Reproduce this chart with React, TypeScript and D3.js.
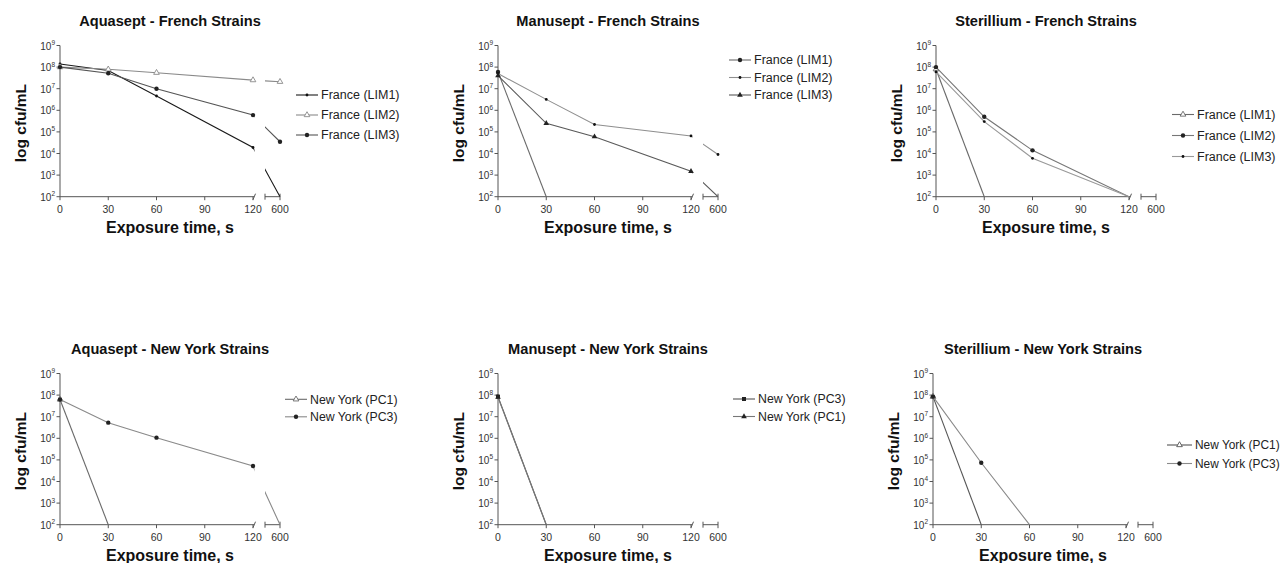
import React from "react";
import * as d3 from "d3";

// sampling times (s); 600 sits on the right of the axis break
const times = [0, 30, 60, 120, 600];
const xTicksMain = [0, 30, 60, 90, 120];
const xTicksBreak = [600];
const yExponents = [2, 3, 4, 5, 6, 7, 8, 9];

// log cfu/mL (null = not plotted)
const aquaFrLIM1 = [1.4e8, 7e7, 4.6e6, 1.9e4, 1e2];
const aquaFrLIM2 = [1e8, 7.9e7, 5.5e7, 2.5e7, 2.1e7];
const aquaFrLIM3 = [1e8, 5.2e7, 1e7, 6e5, 3.5e4];

const manuFrLIM1 = [6e7, 1e2, null, null, null];
const manuFrLIM2 = [5e7, 3.2e6, 2.2e5, 6.5e4, 9e3];
const manuFrLIM3 = [4e7, 2.5e5, 6e4, 1.5e3, 1e2];

const sterFrLIM1 = [8e7, 1e2, null, null, null];
const sterFrLIM2 = [1e8, 5e5, 1.4e4, 1e2, null];
const sterFrLIM3 = [6e7, 3e5, 6e3, 1e2, null];

const aquaNyPC1 = [6.3e7, 1e2, null, null, null];
const aquaNyPC3 = [6.3e7, 5.3e6, 1.07e6, 5.2e4, 1e2];

const manuNyPC3 = [8.5e7, 1e2, null, null, null];
const manuNyPC1 = [8e7, 1e2, null, null, null];

const sterNyPC1 = [8.5e7, 1e2, null, null, null];
const sterNyPC3 = [8.5e7, 7.4e4, 1e2, null, null];

type Series = { name: string; values: (number | null)[]; color: string; marker: string };
type Panel = {
  title: string;
  x0: number;
  yTop: number;
  yBottom: number;
  series: Series[];
  legend: { x: number; y: number; gap: number; size: number };
};

const FONT = "'Liberation Sans', Arial, Helvetica, sans-serif";

const panels: Panel[] = [
  {
    title: "Aquasept - French Strains",
    x0: 60, yTop: 45.5, yBottom: 196.7,
    series: [
      { name: "France (LIM1)", values: aquaFrLIM1, color: "#1a1a1a", marker: "dot" },
      { name: "France (LIM2)", values: aquaFrLIM2, color: "#8a8a8a", marker: "triangle" },
      { name: "France (LIM3)", values: aquaFrLIM3, color: "#555", marker: "circle" },
    ],
    legend: { x: 296, y: 95, gap: 20, size: 12.5 },
  },
  {
    title: "Manusept - French Strains",
    x0: 498, yTop: 45.5, yBottom: 196.7,
    series: [
      { name: "France (LIM1)", values: manuFrLIM1, color: "#6a6a6a", marker: "circle" },
      { name: "France (LIM2)", values: manuFrLIM2, color: "#8f8f8f", marker: "dot" },
      { name: "France (LIM3)", values: manuFrLIM3, color: "#5a5a5a", marker: "triFill" },
    ],
    legend: { x: 729, y: 60, gap: 17.5, size: 12.5 },
  },
  {
    title: "Sterillium - French Strains",
    x0: 936, yTop: 45.5, yBottom: 196.7,
    series: [
      { name: "France (LIM1)", values: sterFrLIM1, color: "#6a6a6a", marker: "triangle" },
      { name: "France (LIM2)", values: sterFrLIM2, color: "#777", marker: "circle" },
      { name: "France (LIM3)", values: sterFrLIM3, color: "#999", marker: "dot" },
    ],
    legend: { x: 1172, y: 114.5, gap: 21, size: 12.5 },
  },
  {
    title: "Aquasept - New York Strains",
    x0: 60, yTop: 373.5, yBottom: 524.7,
    series: [
      { name: "New York (PC1)", values: aquaNyPC1, color: "#6a6a6a", marker: "triangle" },
      { name: "New York (PC3)", values: aquaNyPC3, color: "#8a8a8a", marker: "circle" },
    ],
    legend: { x: 285, y: 399.3, gap: 17.5, size: 12.3 },
  },
  {
    title: "Manusept - New York Strains",
    x0: 498, yTop: 373.5, yBottom: 524.7,
    series: [
      { name: "New York (PC3)", values: manuNyPC3, color: "#555", marker: "square" },
      { name: "New York (PC1)", values: manuNyPC1, color: "#777", marker: "triFill" },
    ],
    legend: { x: 733, y: 399, gap: 17.5, size: 12.3 },
  },
  {
    title: "Sterillium - New York Strains",
    x0: 933, yTop: 373.5, yBottom: 524.7,
    series: [
      { name: "New York (PC1)", values: sterNyPC1, color: "#555", marker: "triangle" },
      { name: "New York (PC3)", values: sterNyPC3, color: "#8a8a8a", marker: "circle" },
    ],
    legend: { x: 1167, y: 445, gap: 18.5, size: 11.9 },
  },
];

function Marker({ type, x, y, color }: { type: string; x: number; y: number; color: string }) {
  if (type === "dot") return <circle cx={x} cy={y} r={1.4} fill="#111" />;
  if (type === "circle") return <circle cx={x} cy={y} r={2.2} fill="#222" />;
  if (type === "square") return <rect x={x - 2} y={y - 2} width={4} height={4} fill="#222" />;
  const tri = d3.symbol(d3.symbolTriangle, 14)() as string;
  if (type === "triFill") return <path d={tri} transform={`translate(${x},${y})`} fill="#222" />;
  return <path d={tri} transform={`translate(${x},${y})`} fill="white" stroke={color} strokeWidth={0.9} />;
}

function ChartPanel({ p, idx }: { p: Panel; idx: number }) {
  const mainEnd = p.x0 + 193;
  const breakStart = p.x0 + 205;
  const breakEnd = p.x0 + 220;
  const xMain = d3.scaleLinear().domain([0, 120]).range([p.x0, mainEnd]);
  const xBreak = d3.scaleLinear().domain([590, 600]).range([breakStart, breakEnd]);
  const xPos = (t: number) => (t <= 120 ? xMain(t) : xBreak(t));
  const y = d3.scaleLog().domain([1e2, 1e9]).range([p.yBottom, p.yTop]);
  const axisColor = "#555";
  const cx = (p.x0 + breakEnd) / 2;
  const line = d3
    .line<[number, number | null]>()
    .defined((d) => d[1] != null)
    .x((d) => xPos(d[0]))
    .y((d) => y(d[1] as number));

  const clipA = `clipA${idx}`;
  const clipB = `clipB${idx}`;
  const lineW = p.legend.x + (idx === 5 ? 25 : 22);

  return (
    <g>
      <defs>
        <clipPath id={clipA}>
          <rect x={p.x0 - 8} y={p.yTop - 10} width={mainEnd + 1.5 - (p.x0 - 8)} height={p.yBottom - p.yTop + 10} />
        </clipPath>
        <clipPath id={clipB}>
          <rect x={breakStart} y={p.yTop - 10} width={breakEnd + 8 - breakStart} height={p.yBottom - p.yTop + 10} />
        </clipPath>
      </defs>

      <text x={cx} y={p.yTop - 20} textAnchor="middle" fontFamily={FONT} fontWeight="bold" fontSize={14.6} fill="#111">
        {p.title}
      </text>

      {/* y axis */}
      <line x1={p.x0} x2={p.x0} y1={p.yTop} y2={p.yBottom} stroke={axisColor} />
      {yExponents.map((e) => (
        <g key={e}>
          <line x1={p.x0 - 3.5} x2={p.x0} y1={y(Math.pow(10, e))} y2={y(Math.pow(10, e))} stroke={axisColor} />
          <text x={p.x0 - 5} y={y(Math.pow(10, e)) + 4} textAnchor="end" fontFamily={FONT} fontSize={10} fill="#333">
            10
            <tspan dy={-4.5} fontSize={6.5}>
              {e}
            </tspan>
          </text>
        </g>
      ))}
      <text
        transform={`translate(${p.x0 - 34},${(p.yTop + p.yBottom) / 2 + 2}) rotate(-90)`}
        textAnchor="middle"
        fontFamily={FONT}
        fontWeight="bold"
        fontSize={15.5}
        fill="#111"
      >
        log cfu/mL
      </text>

      {/* x axis with break */}
      <line x1={p.x0} x2={mainEnd + 1} y1={p.yBottom} y2={p.yBottom} stroke={axisColor} />
      <line x1={mainEnd} x2={mainEnd + 2.5} y1={p.yBottom + 3} y2={p.yBottom - 3} stroke={axisColor} />
      <line x1={breakStart} x2={breakEnd} y1={p.yBottom} y2={p.yBottom} stroke={axisColor} />
      <line x1={breakStart} x2={breakStart} y1={p.yBottom - 3} y2={p.yBottom + 3} stroke={axisColor} />
      {xTicksMain.map((t) => (
        <g key={t}>
          <line x1={xMain(t)} x2={xMain(t)} y1={p.yBottom} y2={p.yBottom + 3.5} stroke={axisColor} />
          <text x={xMain(t)} y={p.yBottom + 16} textAnchor="middle" fontFamily={FONT} fontSize={10.5} fill="#333">
            {t}
          </text>
        </g>
      ))}
      {xTicksBreak.map((t) => (
        <g key={t}>
          <line x1={xBreak(t)} x2={xBreak(t)} y1={p.yBottom - 3} y2={p.yBottom + 3.5} stroke={axisColor} />
          <text x={xBreak(t)} y={p.yBottom + 16} textAnchor="middle" fontFamily={FONT} fontSize={10.5} fill="#333">
            {t}
          </text>
        </g>
      ))}
      <text x={cx} y={p.yBottom + 36} textAnchor="middle" fontFamily={FONT} fontWeight="bold" fontSize={16} fill="#111">
        Exposure time, s
      </text>

      {/* series */}
      {p.series.map((s) => {
        const pts = times.map((t, i) => [t, s.values[i]] as [number, number | null]);
        const d = line(pts) || "";
        return (
          <g key={s.name + s.marker}>
            <path d={d} fill="none" stroke={s.color} strokeWidth={1.1} clipPath={`url(#${clipA})`} />
            <path d={d} fill="none" stroke={s.color} strokeWidth={1.1} clipPath={`url(#${clipB})`} />
            {pts
              .filter((q) => q[1] != null && (q[1] as number) > 1e2)
              .map((q) => (
                <Marker key={q[0]} type={s.marker} x={xPos(q[0])} y={y(q[1] as number)} color={s.color} />
              ))}
          </g>
        );
      })}

      {/* legend */}
      {p.series.map((s, i) => {
        const ly = p.legend.y + i * p.legend.gap;
        return (
          <g key={"lg" + i}>
            <line x1={p.legend.x} x2={lineW} y1={ly} y2={ly} stroke={s.color} strokeWidth={1.1} />
            <Marker type={s.marker} x={(p.legend.x + lineW) / 2} y={ly} color={s.color} />
            <text x={lineW + 3} y={ly} dy="0.35em" fontFamily={FONT} fontSize={p.legend.size} fill="#222">
              {s.name}
            </text>
          </g>
        );
      })}
    </g>
  );
}

export default function App() {
  return (
    <svg
      width={1287}
      height={563}
      style={{ position: "absolute", left: 0, top: 0, background: "#fff" }}
    >
      {panels.map((p, i) => (
        <ChartPanel key={i} p={p} idx={i} />
      ))}
    </svg>
  );
}
